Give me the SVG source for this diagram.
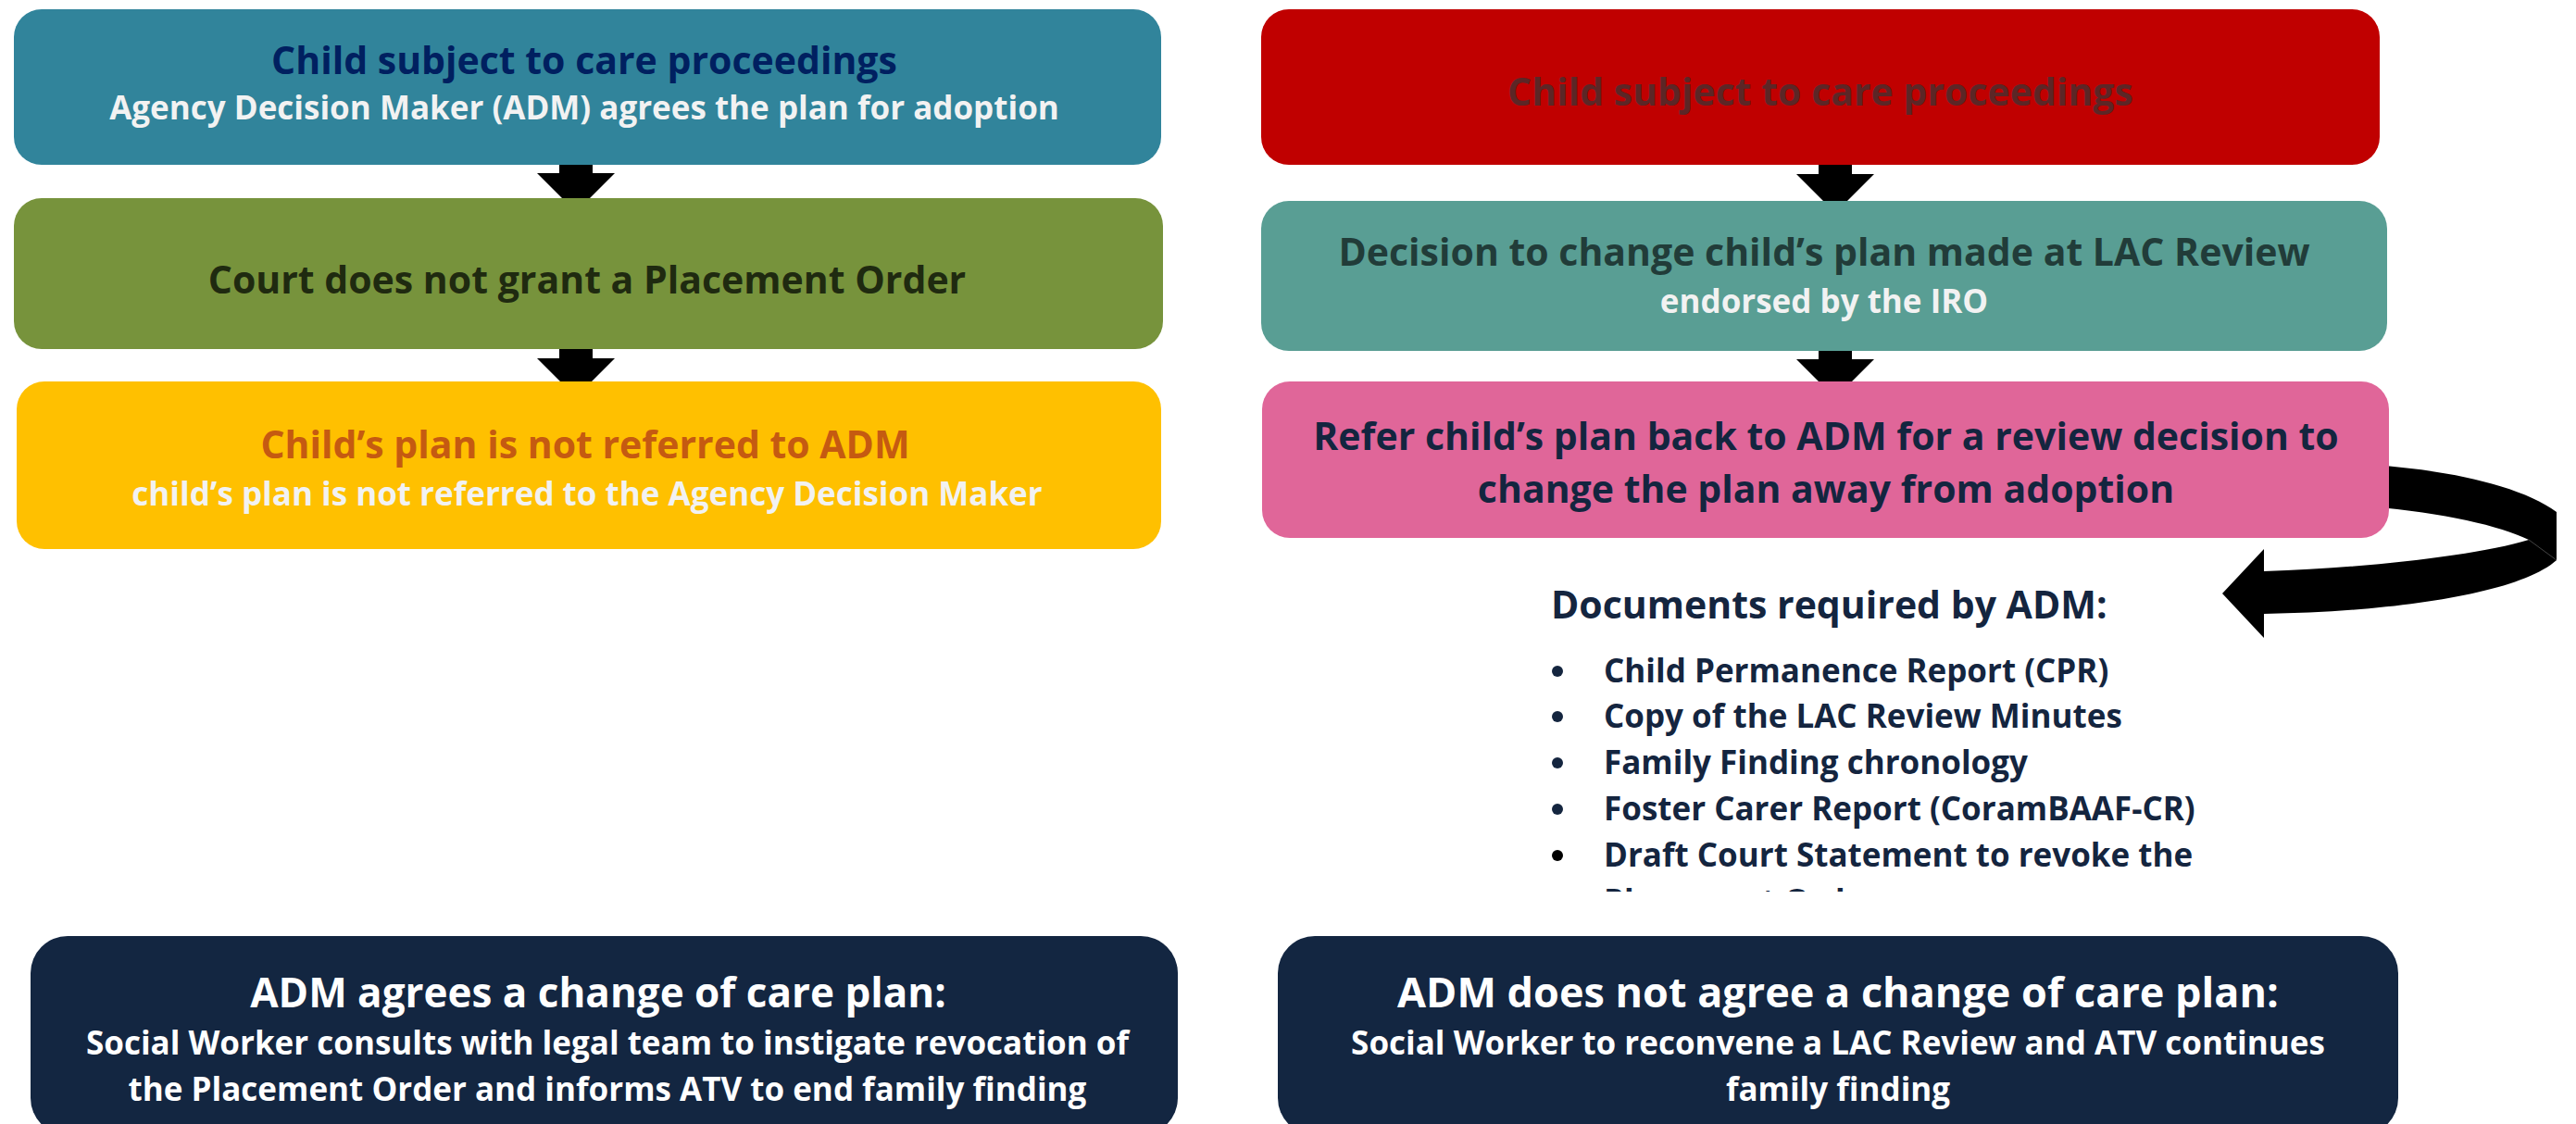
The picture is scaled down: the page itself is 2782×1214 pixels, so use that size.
<svg xmlns="http://www.w3.org/2000/svg" xmlns:xlink="http://www.w3.org/1999/xlink" width="2782" height="1214" viewBox="0 0 2782 1214">
<style>
text{font-family:"Open Sans","Noto Sans","DejaVu Sans",sans-serif;font-weight:700;text-anchor:middle}
.t41{font-size:41px}
.t35{font-size:35px}
.t44{font-size:44px}
.w{fill:#f2f2f2}
.wh{fill:#ffffff}
.navy{fill:#14253f}
.doc{text-anchor:start}
</style>
<defs>
<path id="dn" d="M-18,0 H18 V10 H42 L0,52 L-42,10 H-18 Z" fill="#000"/>
<clipPath id="docclip"><rect x="1600" y="600" width="1000" height="363"/></clipPath>
</defs>
<rect width="2782" height="1214" fill="#fff"/>
<g id="connectors">
<use xlink:href="#dn" transform="translate(622,177)"/>
<use xlink:href="#dn" transform="translate(622,377)"/>
<use xlink:href="#dn" transform="translate(1982,178)"/>
<use xlink:href="#dn" transform="translate(1982,378)"/>
<path id="curved-arrow" d="M2560,502 C2640,507 2722,524 2761,553 L2761,605 C2720,642 2580,661 2445,663 L2445,689 L2400,641 L2445,593 L2445,617 C2560,613 2675,600 2731,583 C2700,568 2640,554 2560,547 Z" fill="#000"/>
<path d="M2731,583 L2761,605" stroke="#444" stroke-width="1" fill="none"/>
</g>
<g id="node-left-1">
<rect x="15" y="10" width="1239" height="168" rx="30" fill="#31849b"/>
<text x="631" y="80" class="t41" fill="#002060">Child subject to care proceedings</text>
<text x="631" y="129" class="t35 w">Agency Decision Maker (ADM) agrees the plan for adoption</text>
</g>
<g id="node-left-2">
<rect x="15" y="214" width="1241" height="163" rx="30" fill="#77933c"/>
<text x="634" y="317" class="t41" fill="#1f2a10">Court does not grant a Placement Order</text>
</g>
<g id="node-left-3">
<rect x="18" y="412" width="1236" height="181" rx="30" fill="#ffc000"/>
<text x="632" y="495" class="t41" fill="#c55a11">Child’s plan is not referred to ADM</text>
<text x="634" y="546" class="t35 w">child’s plan is not referred to the Agency Decision Maker</text>
</g>
<g id="node-right-1">
<rect x="1362" y="10" width="1208" height="168" rx="30" fill="#c00000"/>
<text x="1966" y="114" class="t41" fill="#5c2626">Child subject to care proceedings</text>
</g>
<g id="node-right-2">
<rect x="1362" y="217" width="1216" height="162" rx="30" fill="#599e94"/>
<text x="1970" y="287" class="t41" fill="#213c39">Decision to change child’s plan made at LAC Review</text>
<text x="1970" y="338" class="t35 w">endorsed by the IRO</text>
</g>
<g id="node-right-3">
<rect x="1363" y="412" width="1217" height="169" rx="30" fill="#e06699"/>
<text x="1972" y="486" class="t41 navy">Refer child’s plan back to ADM for a review decision to</text>
<text x="1972" y="543" class="t41 navy">change the plan away from adoption</text>
</g>
<g id="documents">
<text x="1675" y="668" class="t41 navy doc">Documents required by ADM:</text>
<g class="navy">
<circle cx="1682" cy="725" r="6"/>
<circle cx="1682" cy="774" r="6"/>
<circle cx="1682" cy="824" r="6"/>
<circle cx="1682" cy="874" r="6"/>
</g>
<circle cx="1682" cy="924" r="6" fill="#000"/>
<text x="1732" y="737" class="t35 navy doc">Child Permanence Report (CPR)</text>
<text x="1732" y="786" class="t35 navy doc">Copy of the LAC Review Minutes</text>
<text x="1732" y="836" class="t35 navy doc">Family Finding chronology</text>
<text x="1732" y="886" class="t35 navy doc">Foster Carer Report (CoramBAAF-CR)</text>
<text x="1732" y="936" class="t35 navy doc">Draft Court Statement to revoke the</text>
<text x="1732" y="986" class="t35 navy doc" clip-path="url(#docclip)">Placement Order</text>
</g>
<g id="node-bottom-left">
<rect x="33" y="1011" width="1239" height="215" rx="40" fill="#132641"/>
<text x="646" y="1088" class="t44 wh">ADM agrees a change of care plan:</text>
<text x="656" y="1139" class="t35 wh">Social Worker consults with legal team to instigate revocation of</text>
<text x="656" y="1189" class="t35 wh">the Placement Order and informs ATV to end family finding</text>
</g>
<g id="node-bottom-right">
<rect x="1380" y="1011" width="1210" height="215" rx="40" fill="#132641"/>
<text x="1985" y="1088" class="t44 wh" style="font-size:45px">ADM does not agree a change of care plan:</text>
<text x="1985" y="1139" class="t35 wh">Social Worker to reconvene a LAC Review and ATV continues</text>
<text x="1985" y="1189" class="t35 wh">family finding</text>
</g>
</svg>
